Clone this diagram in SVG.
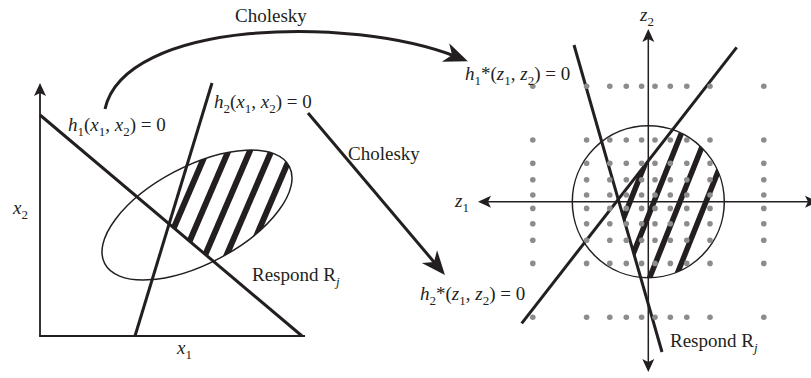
<svg xmlns="http://www.w3.org/2000/svg" width="811" height="378" viewBox="0 0 811 378">
<style>
.t{font-family:"Liberation Serif","Times New Roman",serif;font-size:19px;fill:#231f20}
.i{font-style:italic}
.s{font-size:13px}
.ln{stroke:#231f20;fill:none}
.thick{stroke-width:3}
.ax{stroke-width:1.8}
.thin{stroke-width:1.5}
.dot{fill:#8c8c8c}
.stripeL{stroke:#231f20;stroke-width:6}
.stripeR{stroke:#231f20;stroke-width:5.5}
</style>
<defs>
<marker id="ah" markerUnits="userSpaceOnUse" markerWidth="16" markerHeight="16" viewBox="-8 -8 16 16" refX="0" refY="0" orient="auto-start-reverse">
<path d="M6,0 L-7,-6 L-4,0 L-7,6 Z" fill="#231f20"/>
</marker>
<marker id="ahL" markerUnits="userSpaceOnUse" markerWidth="30" markerHeight="26" viewBox="-14 -13 30 26" refX="0" refY="0" orient="auto">
<path d="M12,0 L-12,-10 L-5,0 L-12,10 Z" fill="#231f20"/>
</marker>
<clipPath id="clipEll"><ellipse cx="197" cy="215" rx="104.3" ry="48.7" transform="rotate(-27.8 197 215)"/></clipPath>
<clipPath id="clipWedgeL"><polygon points="169.1,223.9 237.2,0 420,0 420,434"/></clipPath>
<clipPath id="clipCirc"><circle cx="648.3" cy="201.7" r="76"/></clipPath>
<clipPath id="clipWedgeR"><polygon points="618.2,199.5 773.5,0 811,0 811,400 675.5,400"/></clipPath>
<g id="dotcol">
<circle class="dot" cx="0" cy="-115.5" r="2.8"/><circle class="dot" cx="0" cy="-61.7" r="2.8"/><circle class="dot" cx="0" cy="-38.5" r="2.8"/><circle class="dot" cx="0" cy="-22" r="2.8"/><circle class="dot" cx="0" cy="-6.7" r="2.8"/><circle class="dot" cx="0" cy="6.7" r="2.8"/><circle class="dot" cx="0" cy="22" r="2.8"/><circle class="dot" cx="0" cy="38.5" r="2.8"/><circle class="dot" cx="0" cy="61.7" r="2.8"/><circle class="dot" cx="0" cy="115.5" r="2.8"/>
</g>
</defs>

<!-- Left plot -->
<g id="leftPlot">
<g id="axesL">
<path class="ln ax" d="M40,336 L40,89" marker-end="url(#ah)"/>
<path class="ln ax" d="M39.1,336 L305,336"/>
</g>
<g id="hatchL" clip-path="url(#clipEll)">
<g clip-path="url(#clipWedgeL)">
<line class="stripeL" x1="228.8" y1="100" x2="142.8" y2="300"/>
<line class="stripeL" x1="250.3" y1="100" x2="164.3" y2="300"/>
<line class="stripeL" x1="271.8" y1="100" x2="185.8" y2="300"/>
<line class="stripeL" x1="293.3" y1="100" x2="207.3" y2="300"/>
<line class="stripeL" x1="314.8" y1="100" x2="228.8" y2="300"/>
</g>
</g>
<g id="ellipse"><ellipse class="ln thin" cx="197" cy="215" rx="104.3" ry="48.7" transform="rotate(-27.8 197 215)"/></g>
<g id="h1line"><line class="ln thick" x1="40" y1="115" x2="302" y2="336"/></g>
<g id="h2line"><line class="ln thick" x1="135" y1="336" x2="212" y2="83"/></g>
<text class="t" x="68" y="131"><tspan class="i">h</tspan><tspan class="s" dy="5">1</tspan><tspan dy="-5">(</tspan><tspan class="i">x</tspan><tspan class="s" dy="5">1</tspan><tspan dy="-5">, </tspan><tspan class="i">x</tspan><tspan class="s" dy="5">2</tspan><tspan dy="-5">) = 0</tspan></text>
<text class="t" x="214" y="108"><tspan class="i">h</tspan><tspan class="s" dy="5">2</tspan><tspan dy="-5">(</tspan><tspan class="i">x</tspan><tspan class="s" dy="5">1</tspan><tspan dy="-5">, </tspan><tspan class="i">x</tspan><tspan class="s" dy="5">2</tspan><tspan dy="-5">) = 0</tspan></text>
<text class="t" x="13" y="214"><tspan class="i">x</tspan><tspan class="s" dy="5">2</tspan></text>
<text class="t" x="177" y="354"><tspan class="i">x</tspan><tspan class="s" dy="5">1</tspan></text>
<text class="t" x="252" y="281">Respond R<tspan class="i s" dy="5">j</tspan></text>
</g>

<!-- Connectors -->
<g id="connectors">
<path class="ln thick" d="M105,109 C125,20 350,15 456.7,56.9" marker-end="url(#ahL)"/>
<path class="ln thick" d="M308,113 L437.2,265.8" marker-end="url(#ahL)"/>
<text class="t" x="235" y="22">Cholesky</text>
<text class="t" x="348" y="160">Cholesky</text>
</g>

<!-- Right plot -->
<g id="rightPlot">
<g id="axesR">
<path class="ln thin" d="M648.3,366 L648.3,35" marker-start="url(#ah)" marker-end="url(#ah)"/>
<path class="ln thin" d="M812,201.7 L484,201.7" marker-start="url(#ah)" marker-end="url(#ah)"/>
</g>
<g id="hatchR" clip-path="url(#clipCirc)">
<g clip-path="url(#clipWedgeR)">
<line class="stripeR" x1="670.7" y1="100" x2="590.7" y2="300"/>
<line class="stripeR" x1="694.7" y1="100" x2="614.7" y2="300"/>
<line class="stripeR" x1="720.7" y1="100" x2="640.7" y2="300"/>
<line class="stripeR" x1="746.7" y1="100" x2="666.7" y2="300"/>
</g>
</g>
<g id="circle"><circle class="ln thin" cx="648.3" cy="201.7" r="76"/></g>
<g id="h1star"><line class="ln thick" x1="574" y1="45" x2="662" y2="352"/></g>
<g id="h2star"><line class="ln thick" x1="736.7" y1="47.3" x2="521.7" y2="323.3"/></g>
<g id="dots" transform="translate(648.3 201.7)">
<use href="#dotcol" x="-115.5"/><use href="#dotcol" x="-61.7"/><use href="#dotcol" x="-38.5"/><use href="#dotcol" x="-22"/><use href="#dotcol" x="-6.7"/><use href="#dotcol" x="6.7"/><use href="#dotcol" x="22"/><use href="#dotcol" x="38.5"/><use href="#dotcol" x="61.7"/><use href="#dotcol" x="115.5"/>
</g>
<text class="t" x="465" y="80"><tspan class="i">h</tspan><tspan class="s" dy="5">1</tspan><tspan dy="-5">*(</tspan><tspan class="i">z</tspan><tspan class="s" dy="5">1</tspan><tspan dy="-5">, </tspan><tspan class="i">z</tspan><tspan class="s" dy="5">2</tspan><tspan dy="-5">) = 0</tspan></text>
<text class="t" x="420" y="300"><tspan class="i">h</tspan><tspan class="s" dy="5">2</tspan><tspan dy="-5">*(</tspan><tspan class="i">z</tspan><tspan class="s" dy="5">1</tspan><tspan dy="-5">, </tspan><tspan class="i">z</tspan><tspan class="s" dy="5">2</tspan><tspan dy="-5">) = 0</tspan></text>
<text class="t" x="455" y="207"><tspan class="i">z</tspan><tspan class="s" dy="5">1</tspan></text>
<text class="t" x="640" y="21"><tspan class="i">z</tspan><tspan class="s" dy="5">2</tspan></text>
<text class="t" x="670" y="347">Respond R<tspan class="i s" dy="5">j</tspan></text>
</g>
</svg>
